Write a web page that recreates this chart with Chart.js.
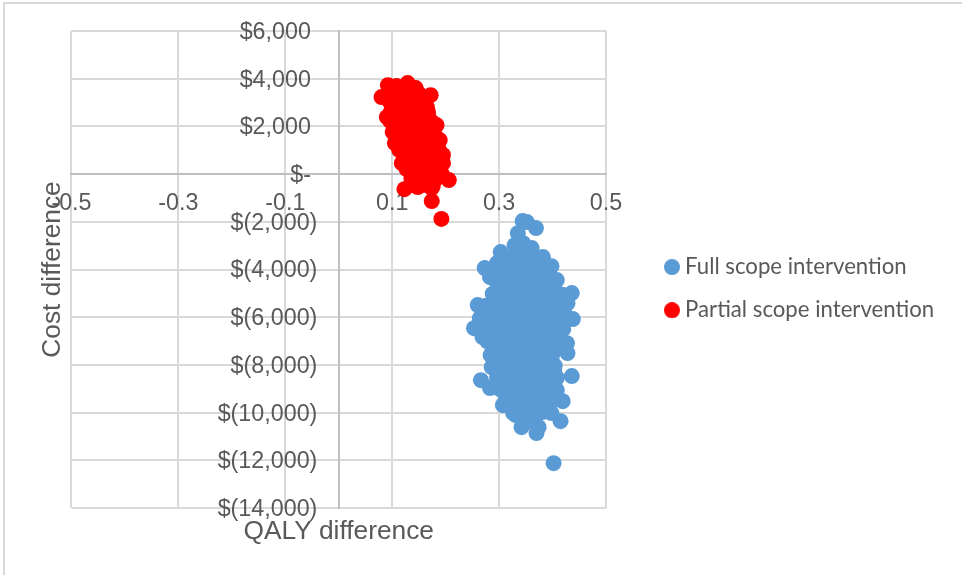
<!DOCTYPE html>
<html><head><meta charset="utf-8">
<script src="https://cdn.jsdelivr.net/npm/chart.js@4/dist/chart.umd.min.js"></script>
<style>
html,body{margin:0;padding:0;background:#fff;overflow:hidden}
#wrap{position:relative;width:962px;height:575px}
#frame{position:absolute;left:3px;top:2px;width:962px;height:575px;border-left:2px solid #d9d9d9;border-top:2px solid #d9d9d9;pointer-events:none}
canvas{position:absolute;left:0;top:0}
</style></head>
<body><div id="wrap"><canvas id="c" width="962" height="575"></canvas><div id="frame"></div></div>
<script>
const seriesNames = ["Full scope intervention", "Partial scope intervention"];
const seriesColors = ["#5b9bd5", "#ff0000"];
const xAxisTitle = "QALY difference";
const yAxisTitle = "Cost difference";
const xTickLabels = ["-0.5", "-0.3", "-0.1", "0.1", "0.3", "0.5"];
const yTickValues = [6000, 4000, 2000, 0, -2000, -4000, -6000, -8000, -10000, -12000, -14000];
const yTickLabels = ["$6,000 ", "$4,000 ", "$2,000 ", "$- ", "$(2,000)", "$(4,000)", "$(6,000)", "$(8,000)", "$(10,000)", "$(12,000)", "$(14,000)"];
const yLabelGap = "   \u200A";

const fullScope = [
 [.344,-1970],[.352,-2010],[.369,-2265],[.335,-2475],[.329,-2980],[.345,-2900],[.361,-3100],[.303,-3270],[.382,-3480],[.398,-3860],
 [.273,-3940],[.283,-4320],[.408,-4445],[.296,-3730],[.436,-4990],[.428,-5410],[.260,-5490],[.438,-6080],[.264,-6040],[.253,-6460],
 [.269,-6835],[.427,-7090],[.428,-7505],[.284,-7590],[.286,-8090],[.436,-8470],[.266,-8640],[.283,-8970],[.408,-9060],[.419,-9520],
 [.307,-9690],[.398,-10020],[.415,-10360],[.331,-10100],[.342,-10610],[.374,-10610],[.370,-10860],[.402,-12120],
 [.315,-3520],[.333,-3480],[.352,-3450],[.372,-3560],
 [.298,-4020],[.318,-3980],[.339,-4040],[.358,-3960],[.378,-4030],[.392,-4100],
 [.296,-4510],[.312,-4540],[.331,-4480],[.349,-4530],[.368,-4470],[.387,-4540],[.403,-4800],
 [.288,-5020],[.306,-4990],[.324,-5040],[.343,-4980],[.361,-5030],[.380,-4970],[.399,-5040],[.418,-5060],
 [.276,-5520],[.296,-5480],[.315,-5530],[.334,-5470],[.352,-5540],[.371,-5490],[.390,-5520],[.409,-5470],[.422,-5620],
 [.272,-6010],[.290,-6040],[.309,-5980],[.328,-6030],[.346,-5990],[.365,-6040],[.384,-5970],[.403,-6020],[.426,-6010],
 [.268,-6490],[.286,-6520],[.304,-6470],[.323,-6530],[.341,-6480],[.360,-6520],[.379,-6490],[.398,-6530],[.420,-6500],
 [.278,-7010],[.297,-6980],[.316,-7030],[.335,-6970],[.354,-7020],[.373,-6990],[.392,-7030],[.412,-6970],
 [.287,-7520],[.305,-7480],[.324,-7530],[.343,-7470],[.362,-7520],[.381,-7480],[.400,-7530],[.416,-7300],
 [.291,-8020],[.309,-7980],[.328,-8030],[.347,-7970],[.366,-8020],[.385,-7980],[.404,-8030],
 [.296,-8510],[.314,-8480],[.333,-8530],[.352,-8470],[.371,-8520],[.390,-8480],[.408,-8540],
 [.302,-9020],[.320,-8980],[.339,-9030],[.358,-8970],[.377,-9020],[.396,-8980],
 [.312,-9510],[.330,-9480],[.349,-9530],[.368,-9470],[.386,-9520],[.401,-9480],
 [.326,-10010],[.345,-9990],[.363,-10030],[.381,-9980],[.352,-10380],[.367,-10350],
 [.325,-3750],[.345,-3720],[.365,-3780],[.306,-4270],[.327,-4260],[.347,-4290],[.369,-4240],[.388,-4310],
 [.315,-4770],[.335,-4750],[.355,-4780],[.375,-4760],[.395,-4790],[.305,-5260],[.325,-5270],[.345,-5240],[.365,-5280],[.385,-5260],[.405,-5250],
 [.300,-5770],[.320,-5790],[.340,-5750],[.360,-5780],[.380,-5760],[.400,-5790],[.415,-5830],[.295,-6260],[.315,-6280],[.335,-6250],[.355,-6280],[.375,-6260],[.395,-6270],[.412,-6240],
 [.290,-6770],[.310,-6750],[.330,-6790],[.350,-6760],[.370,-6780],[.390,-6750],[.410,-6760],[.292,-7270],[.312,-7250],[.332,-7280],[.352,-7260],[.372,-7290],[.392,-7250],
 [.300,-7760],[.320,-7780],[.340,-7750],[.360,-7770],[.380,-7750],[.398,-7780],[.305,-8270],[.325,-8250],[.345,-8280],[.365,-8260],[.385,-8270],[.403,-8260],
 [.310,-8770],[.330,-8750],[.350,-8780],[.370,-8760],[.390,-8770],[.320,-9260],[.340,-9280],[.360,-9250],[.380,-9270],[.398,-9260],[.338,-9760],[.358,-9770],[.376,-9760]
];

const partialScope = [
 [.080,3230],[.092,3730],[.108,3690],[.129,3815],[.144,3605],[.172,3310],[.090,2390],[.167,2600],[.183,2055],[.101,1760],
 [.189,1425],[.105,1300],[.195,800],[.195,460],[.118,460],[.206,-250],[.123,-630],[.148,-545],[.174,-590],[.174,-1130],[.192,-1880],
 [.102,3410],[.118,3380],[.134,3420],[.150,3360],
 [.096,3010],[.112,2990],[.128,3030],[.143,2980],[.156,3020],
 [.098,2620],[.114,2590],[.130,2630],[.146,2580],[.160,2610],
 [.097,2210],[.112,2190],[.127,2230],[.143,2180],[.158,2220],[.174,2190],
 [.110,1810],[.126,1790],[.141,1830],[.157,1780],[.172,1810],
 [.108,1420],[.124,1390],[.139,1430],[.155,1380],[.170,1420],[.184,1390],
 [.113,1020],[.128,990],[.144,1030],[.159,980],[.175,1020],[.188,990],
 [.122,610],[.137,590],[.153,630],[.168,580],[.183,620],
 [.127,210],[.142,190],[.157,230],[.173,180],[.188,210],
 [.136,-190],[.151,-210],[.166,-170],[.182,-200],
 [.142,-480],[.160,-450],[.176,-490],
 [.110,3200],[.126,3210],[.142,3190],[.158,3210],[.104,2810],[.120,2800],[.136,2820],[.152,2800],[.165,2810],
 [.105,2400],[.121,2410],[.137,2390],[.153,2410],[.168,2390],[.105,2000],[.120,2010],[.135,1990],[.150,2010],[.165,2000],[.178,1990],
 [.117,1610],[.133,1600],[.149,1620],[.165,1600],[.180,1610],[.120,1210],[.136,1190],[.152,1210],[.168,1200],[.184,1210],
 [.125,810],[.141,800],[.157,820],[.173,800],[.188,810],[.133,400],[.149,410],[.165,390],[.181,410],[.145,0],[.161,10],[.177,-10],[.193,0]
];

const toPoints = rows => rows.map(r => ({x: r[0], y: r[1]}));
const textColor = "#595959", gridColor = "#d9d9d9", axisColor = "#bfbfbf";
const sans = "'Liberation Sans'";

function legendDot(color) {
  const cv = document.createElement("canvas");
  cv.width = 16; cv.height = 16;
  const g = cv.getContext("2d");
  g.fillStyle = color;
  g.beginPath(); g.arc(8, 8, 8, 0, Math.PI * 2); g.fill();
  return cv;
}

const legendPlacer = {
  id: "legendPlacer",
  afterLayout(chart) {
    const l = chart.legend;
    l.left = 649; l.right = 960; l.top = 235; l.bottom = 500;
  }
};

new Chart(document.getElementById("c"), {
  type: "scatter",
  plugins: [legendPlacer],
  data: { datasets: [
    { label: seriesNames[0], data: toPoints(fullScope), backgroundColor: seriesColors[0], borderColor: seriesColors[0], pointRadius: 8, pointHoverRadius: 8, borderWidth: 0 },
    { label: seriesNames[1], data: toPoints(partialScope), backgroundColor: seriesColors[1], borderColor: seriesColors[1], pointRadius: 8, pointHoverRadius: 8, borderWidth: 0 }
  ]},
  options: {
    responsive: false, animation: false, devicePixelRatio: 1,
    layout: { padding: { left: 0, right: 356, top: 31, bottom: 67 } },
    plugins: {
      tooltip: { enabled: false },
      legend: { position: "chartArea", align: "start",
        labels: { usePointStyle: true, boxHeight: 11.3, pointStyleWidth: 4, padding: 21, color: textColor,
                  font: { family: "Lato", size: 22.2 },
                  generateLabels(chart) {
                    return Chart.defaults.plugins.legend.labels.generateLabels(chart)
                      .map((it, i) => Object.assign(it, { pointStyle: legendDot(seriesColors[i]) }));
                  } } }
    },
    scales: {
      x: { type: "linear", min: -0.5, max: 0.5, position: { y: 0 },
        ticks: { stepSize: 0.2, autoSkip: false, maxRotation: 0, padding: 15, color: textColor,
                 font: { family: sans, size: 23.3 },
                 callback: (v, i) => xTickLabels[i] },
        grid: { color: gridColor, lineWidth: 2, drawTicks: false },
        border: { color: axisColor, width: 2 },
        title: { display: true, text: xAxisTitle, color: textColor, font: { family: sans, size: 26.3 }, padding: { top: 417, bottom: -135 } } },
      y: { type: "linear", min: -14000, max: 6000, position: { x: 0 },
        ticks: { stepSize: 2000, autoSkip: false, padding: 0, labelOffset: 1.5, color: textColor,
                 font: { family: sans, size: 23.3 },
                 callback: v => yTickLabels[yTickValues.indexOf(v)] + yLabelGap },
        grid: { color: gridColor, lineWidth: 2, drawTicks: false },
        border: { color: axisColor, width: 2 } },
      yTitle: { type: "linear", axis: "y", min: -14000, max: 6000, position: "left",
        ticks: { display: false },
        grid: { display: false, drawTicks: false },
        border: { display: false },
        title: { display: true, text: yAxisTitle, color: textColor, font: { family: sans, size: 26.3 }, padding: { top: 37, bottom: 2.9 } } }
    }
  }
});
</script></body></html>
